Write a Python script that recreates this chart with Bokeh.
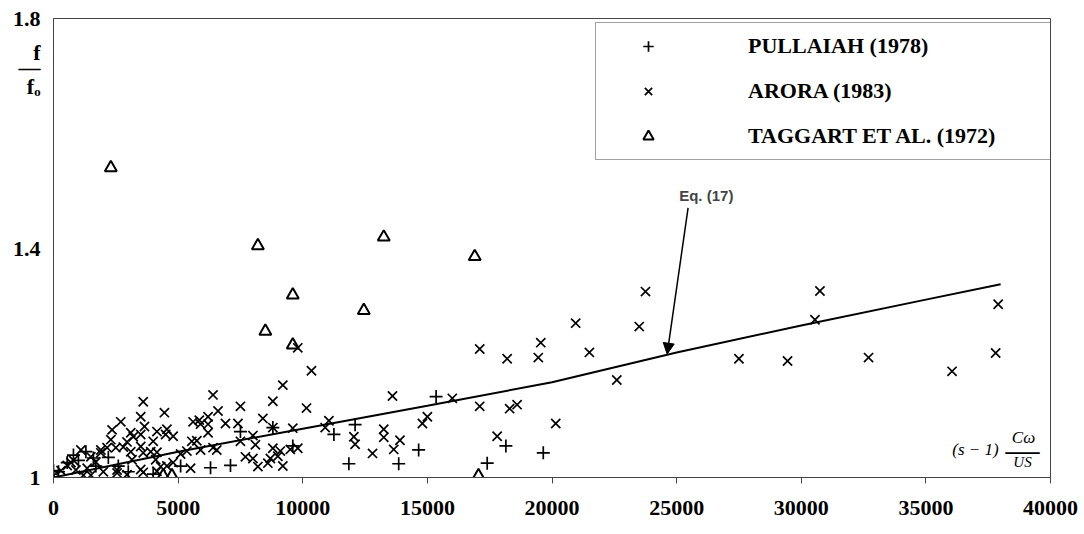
from bokeh.plotting import figure
from bokeh.models import (Range1d, FixedTicker, Legend, LegendItem, Label, Arrow,
                          NormalHead, PrintfTickFormatter)
from bokeh.embed import file_html
from bokeh.resources import INLINE

# ---------------- data ----------------
pullaiah_x = [0, 200, 550, 800, 1000, 1300, 1600, 1700, 2200, 2600, 3000, 4000,
              5100, 6300, 7100, 7500, 8800, 9600, 11250, 12100, 11850, 13850,
              14650, 15350, 17400, 18150, 19650]
pullaiah_y = [1.012, 1.010, 1.026, 1.039, 1.030, 1.045, 1.034, 1.020, 1.035, 1.020,
              1.010, 1.006, 1.020, 1.017, 1.021, 1.080, 1.087, 1.055, 1.075, 1.092,
              1.024, 1.024, 1.048, 1.141, 1.025, 1.055, 1.043]

arora_x = [0, 300, 550, 700, 800, 900, 1100, 1200, 1350, 1500, 1500, 1700, 1900,
           1900, 2000, 2150, 2300, 2350, 2500, 2550, 2550, 2700, 2800, 2950, 2950,
           3100, 3100, 3150, 3200, 3500, 3500, 3500, 3500, 3600, 3600, 3600, 3650,
           3900, 4000, 4100, 4150, 4150, 4150, 4300, 4450, 4500, 4550, 4550, 4800,
           4800, 5100, 5350, 5500, 5550, 5600, 5750, 5850, 5900, 5900, 6200, 6200,
           6200, 6400, 6400, 6550, 6600, 6900, 7400, 7500, 7500, 7700, 8000, 8000,
           8100, 8200, 8400, 8600, 8700, 8800, 8800, 8800, 9000, 9100, 9200, 9200,
           9500, 9600, 9800, 9800, 10150, 10350, 10900, 11050, 12050, 12100, 12800,
           13250, 13250, 13600, 13650, 13900, 14800, 15000, 16000, 17100, 17100,
           17800, 18200, 18300, 18600, 19450, 19550, 20150, 20950, 21500, 22600,
           23500, 23750, 27500, 29450, 30550, 30750, 32700, 36050, 37800, 37900]
arora_y = [1.003, 1.012, 1.021, 1.026, 1.030, 1.013, 1.048, 1.004, 1.016, 1.036,
           1.004, 1.027, 1.048, 1.043, 1.010, 1.052, 1.066, 1.083, 1.052, 1.013,
           1.008, 1.097, 1.053, 1.062, 1.005, 1.078, 1.045, 1.031, 1.071, 1.106,
           1.014, 1.054, 1.075, 1.132, 1.043, 1.009, 1.089, 1.045, 1.063, 1.031,
           1.044, 1.080, 1.011, 1.019, 1.113, 1.075, 1.084, 1.020, 1.072, 1.026,
           1.041, 1.046, 1.016, 1.063, 1.097, 1.064, 1.100, 1.048, 1.093, 1.093,
           1.078, 1.106, 1.144, 1.052, 1.048, 1.116, 1.094, 1.094, 1.124, 1.063,
           1.036, 1.073, 1.033, 1.057, 1.019, 1.103, 1.025, 1.033, 1.133, 1.051,
           1.087, 1.037, 1.046, 1.161, 1.020, 1.049, 1.086, 1.051, 1.226, 1.121,
           1.186, 1.087, 1.099, 1.071, 1.058, 1.042, 1.084, 1.070, 1.142, 1.049,
           1.065, 1.094, 1.106, 1.138, 1.124, 1.224, 1.072, 1.207, 1.120, 1.127,
           1.209, 1.235, 1.094, 1.269, 1.218, 1.170, 1.263, 1.324, 1.207, 1.203,
           1.275, 1.325, 1.209, 1.185, 1.217, 1.302]

taggart_x = [2300, 4400, 4750, 8200, 8500, 9600, 9600, 12450, 13250, 16900, 17050]
taggart_y = [1.540, 1.003, 1.003, 1.404, 1.255, 1.318, 1.231, 1.291, 1.419, 1.385, 1.003]

eq17_x = [0, 5000, 10000, 15000, 20000, 25000, 30000, 35000, 38000]
eq17_y = [1.0, 1.045, 1.085, 1.125, 1.166, 1.218, 1.265, 1.310, 1.337]

eq17_label = "Eq. (17)"
eq17_label_pos = (26190, 1.492)
arrow_start = (25460, 1.470)
arrow_end = (24620, 1.215)

x_ticks = [0, 5000, 10000, 15000, 20000, 25000, 30000, 35000, 40000]
y_ticks = [1.0, 1.4, 1.8]
series_labels = ["PULLAIAH (1978)", "ARORA (1983)", "TAGGART ET AL. (1972)"]

# y-axis title f / f_o, written as extra tick labels just below 1.8
y_title_ticks = [1.740, 1.714, 1.681]
y_title_texts = ["f", "\u2015", "f\u2092"]

# ---------------- figure ----------------
p = figure(width=1084, height=534, x_range=Range1d(0, 40000), y_range=Range1d(1.0, 1.8),
           output_backend="svg", toolbar_location=None,
           min_border_left=53, min_border_right=34, min_border_top=18, min_border_bottom=57)
p.grid.visible = False
p.outline_line_color = "#444444"
p.outline_line_width = 1
p.background_fill_color = "white"
p.border_fill_color = "white"

for ax in (p.xaxis[0], p.yaxis[0]):
    ax.axis_line_color = "#444444"
    ax.major_tick_line_color = "#444444"
    ax.minor_tick_line_color = None
    ax.major_tick_in = 0
    ax.major_label_text_font = "Liberation Serif"
    ax.major_label_text_font_style = "bold"
    ax.major_label_text_font_size = "22px"
    ax.major_label_text_color = "black"

p.xaxis.ticker = FixedTicker(ticks=x_ticks)
p.xaxis.major_tick_out = 6
p.xaxis.major_label_standoff = 17
p.yaxis.ticker = FixedTicker(ticks=y_ticks + y_title_ticks)
p.yaxis.formatter = PrintfTickFormatter(format="%g")
p.yaxis.major_label_overrides = {t: s for t, s in zip(y_title_ticks, y_title_texts)}
p.yaxis.major_tick_out = 5
p.yaxis.major_tick_line_color = None
p.yaxis.major_label_standoff = 8

# Eq. (17) curve
p.line(eq17_x, eq17_y, line_color="black", line_width=2)

r1 = p.scatter(pullaiah_x, pullaiah_y, marker="cross", size=13,
               line_color="black", line_width=1.7)
r2 = p.scatter(arora_x, arora_y, marker="x", size=13,
               line_color="black", line_width=1.7)
r3 = p.scatter(taggart_x, taggart_y, marker="triangle", size=12,
               fill_color=None, line_color="black", line_width=2)

p.add_layout(Arrow(end=NormalHead(size=11, fill_color="black", line_color="black"),
                   x_start=arrow_start[0], y_start=arrow_start[1],
                   x_end=arrow_end[0], y_end=arrow_end[1],
                   line_color="black", line_width=1.5))
p.add_layout(Label(x=eq17_label_pos[0], y=eq17_label_pos[1], text=eq17_label,
                   text_font="Liberation Sans", text_font_style="bold",
                   text_font_size="15px", text_align="center", text_baseline="middle"))

legend = Legend(items=[LegendItem(label=series_labels[0], renderers=[r1]),
                       LegendItem(label=series_labels[1], renderers=[r2]),
                       LegendItem(label=series_labels[2], renderers=[r3])],
                location=(542, 317), margin=0, padding=10, spacing=19,
                glyph_width=84, glyph_height=26, label_height=26, label_width=298,
                label_standoff=58,
                label_text_font="Liberation Serif", label_text_font_style="bold",
                label_text_font_size="22px", label_text_color="black",
                border_line_color="#444444", border_line_width=1,
                background_fill_color="white", background_fill_alpha=1)
p.add_layout(legend)

# x-axis title (s-1) Cw/US inside the frame
def lab(x, y, t, size, style="italic", font="Liberation Serif"):
    p.add_layout(Label(x=x, y=y, x_units="screen", y_units="screen", text=t,
                       text_font=font, text_font_style=style, text_font_size=size,
                       text_align="center", text_baseline="middle", text_color="black"))

lab(922, 28, "(s \u2212 1)", "17px")
lab(970, 40, "C\u03c9", "17px")
lab(969, 28, "\u2015", "34px", style="normal")
lab(969, 16, "US", "15px")

open("out.html", "w").write(file_html(p, INLINE))
